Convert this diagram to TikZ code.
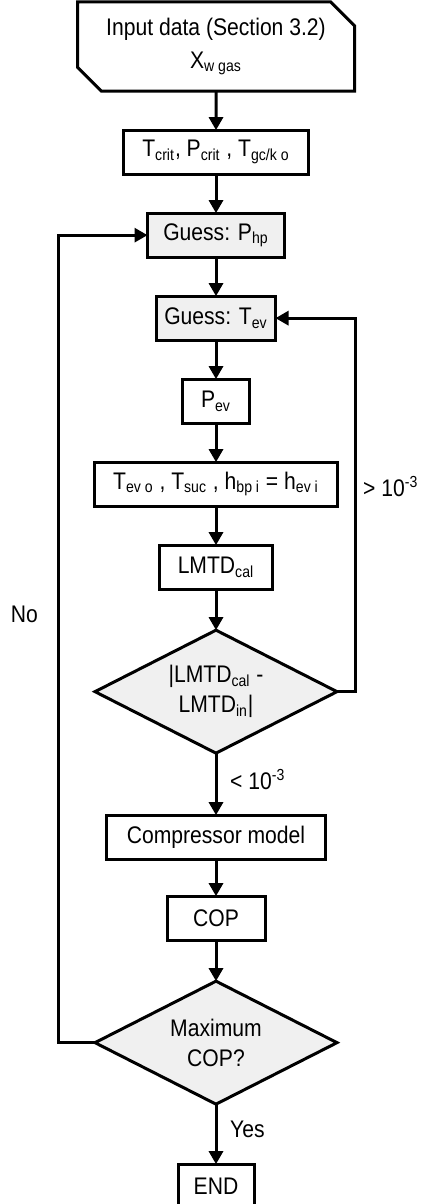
\documentclass[tikz,border=0pt]{standalone}
\usepackage{fontspec}
\setmainfont{Liberation Sans}[FakeStretch=0.88]
\usetikzlibrary{shapes.geometric, shapes.misc, arrows.meta, positioning}

\begin{document}
\begin{tikzpicture}[
    font=\fontsize{12}{15}\selectfont,
    block/.style={rectangle, draw, line width=1.5pt, align=center, outer sep=0pt,
                  minimum height=22pt, inner sep=2pt},
    guess/.style={block, fill=black!6},
    inputdata/.style={chamfered rectangle, draw, line width=1.5pt, outer sep=0pt,
                  chamfered rectangle corners={north east, south west},
                  chamfered rectangle xsep=6pt, chamfered rectangle ysep=6pt,
                  minimum width=138.5pt, minimum height=38pt, inner sep=2pt,
                  align=center, font=\fontsize{12}{16.5}\selectfont},
    decision/.style={diamond, draw, line width=1.5pt, fill=black!6, aspect=2,
                  outer sep=0pt, inner sep=0pt, minimum width=121pt,
                  minimum height=61.5pt, align=center},
    flow/.style={-{Triangle[length=6.5pt,width=7pt]}, line width=1.5pt}]

\useasboundingbox (0,0) rectangle (214.5pt,-602pt);

\node[inputdata] (input) at (108pt,-23.25pt) {Input data (Section 3.2)\\X\textsubscript{w gas}};
\node[block, minimum width=92.5pt, below=19.5pt of input] (crit) {T\textsubscript{crit}, P\textsubscript{crit} , T\textsubscript{gc/k o}};
\node[guess, minimum width=68.5pt, below=19.5pt of crit] (guessp) {Guess: P\textsubscript{hp}};
\node[guess, minimum width=59.5pt, below=19.5pt of guessp] (guesst) {Guess: T\textsubscript{ev}};
\node[block, minimum width=33.5pt, below=19.5pt of guesst] (pev) {P\textsubscript{ev}};
\node[block, minimum width=121.5pt, below=19.5pt of pev] (states) {T\textsubscript{ev o} , T\textsubscript{suc} , h\textsubscript{bp i} = h\textsubscript{ev i}};
\node[block, minimum width=56.5pt, below=19.5pt of states] (lmtd) {LMTD\textsubscript{cal}};
\node[decision, below=20.5pt of lmtd] (lmtdchk) {|LMTD\textsubscript{cal} -\\LMTD\textsubscript{in}|};
\node[block, minimum width=109.5pt, below=31pt of lmtdchk] (comp) {Compressor model};
\node[block, minimum width=49pt, below=18.5pt of comp] (cop) {COP};
\node[decision, below=20.5pt of cop] (maxcop) {Maximum\\COP?};
\node[block, minimum width=38pt, below=30pt of maxcop] (stop) {END};

\draw[flow] (input) -- (crit);
\draw[flow] (crit) -- (guessp);
\draw[flow] (guessp) -- (guesst);
\draw[flow] (guesst) -- (pev);
\draw[flow] (pev) -- (states);
\draw[flow] (states) -- (lmtd);
\draw[flow] (lmtd) -- (lmtdchk);
\draw[flow] (lmtdchk) -- node[right=3pt, pos=0.42] {< 10\textsuperscript{-3}} (comp);
\draw[flow] (lmtdchk.east) -- ++(9pt,0) coordinate (rturn)
    -- node[right, pos=0.55] {> 10\textsuperscript{-3}} (rturn |- guesst.east) -- (guesst.east);
\draw[flow] (comp) -- (cop);
\draw[flow] (cop) -- (maxcop);
\draw[flow] (maxcop.west) -- ++(-18.5pt,0) coordinate (lturn)
    -- node[left=6pt, pos=0.53] {No} (lturn |- guessp.west) -- (guessp.west);
\draw[flow] (maxcop) -- node[right=3pt, pos=0.42] {Yes} (stop);
\end{tikzpicture}
\end{document}
